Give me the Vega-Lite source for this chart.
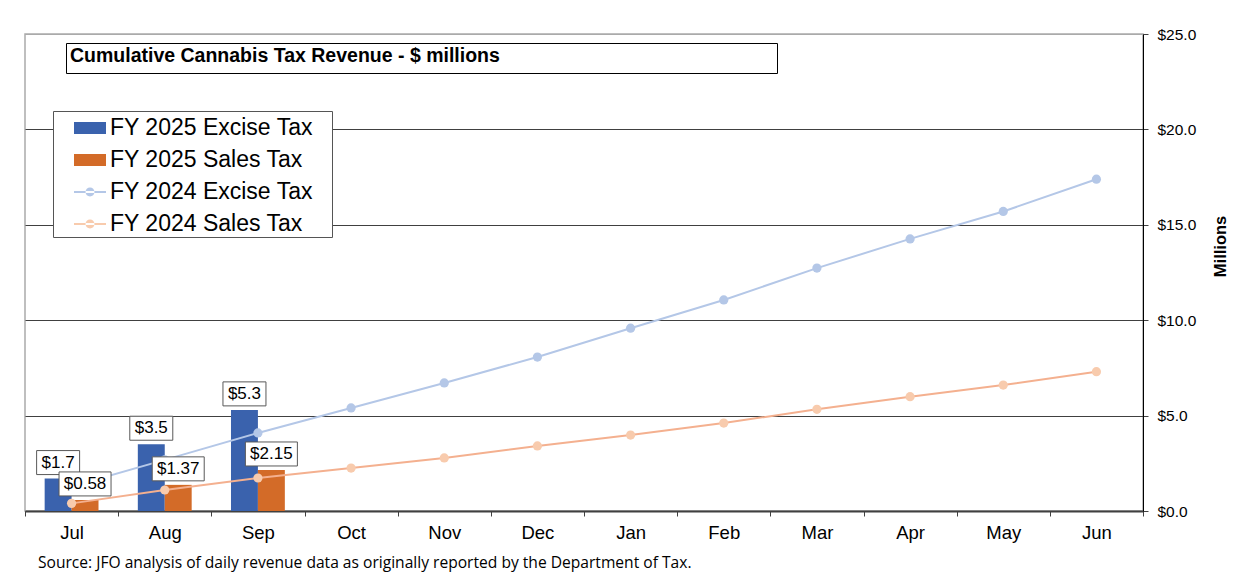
{
  "$schema": "https://vega.github.io/schema/vega-lite/v6.json",
  "width": 1118,
  "height": 477,
  "autosize": {"type": "none"},
  "padding": {"left": 25, "top": 34, "right": 104, "bottom": 61},
  "background": "white",
  "config": {
    "font": "Liberation Sans",
    "view": {"stroke": "#aaaaaa", "strokeWidth": 1.5},
    "text": {"font": "Liberation Sans"}
  },
  "title": {
    "text": "Source: JFO analysis of daily revenue data as originally reported by the Department of Tax.",
    "orient": "bottom",
    "anchor": "start",
    "frame": "group",
    "dx": 13,
    "offset": 14,
    "font": "Open Sans",
    "fontSize": 15.6,
    "fontWeight": "normal",
    "color": "black",
    "baseline": "top"
  },
  "datasets": {
    "bars": [
      {"month": "Jul", "series": "FY 2025 Excise Tax", "value": 1.7},
      {"month": "Jul", "series": "FY 2025 Sales Tax", "value": 0.58},
      {"month": "Aug", "series": "FY 2025 Excise Tax", "value": 3.5},
      {"month": "Aug", "series": "FY 2025 Sales Tax", "value": 1.37},
      {"month": "Sep", "series": "FY 2025 Excise Tax", "value": 5.3},
      {"month": "Sep", "series": "FY 2025 Sales Tax", "value": 2.15}
    ],
    "lines": [
      {"month": "Jul", "series": "FY 2024 Excise Tax", "value": 1.28},
      {"month": "Aug", "series": "FY 2024 Excise Tax", "value": 2.68},
      {"month": "Sep", "series": "FY 2024 Excise Tax", "value": 4.09},
      {"month": "Oct", "series": "FY 2024 Excise Tax", "value": 5.4},
      {"month": "Nov", "series": "FY 2024 Excise Tax", "value": 6.71},
      {"month": "Dec", "series": "FY 2024 Excise Tax", "value": 8.07},
      {"month": "Jan", "series": "FY 2024 Excise Tax", "value": 9.58},
      {"month": "Feb", "series": "FY 2024 Excise Tax", "value": 11.06},
      {"month": "Mar", "series": "FY 2024 Excise Tax", "value": 12.73},
      {"month": "Apr", "series": "FY 2024 Excise Tax", "value": 14.26},
      {"month": "May", "series": "FY 2024 Excise Tax", "value": 15.7},
      {"month": "Jun", "series": "FY 2024 Excise Tax", "value": 17.39},
      {"month": "Jul", "series": "FY 2024 Sales Tax", "value": 0.4},
      {"month": "Aug", "series": "FY 2024 Sales Tax", "value": 1.1},
      {"month": "Sep", "series": "FY 2024 Sales Tax", "value": 1.73},
      {"month": "Oct", "series": "FY 2024 Sales Tax", "value": 2.25},
      {"month": "Nov", "series": "FY 2024 Sales Tax", "value": 2.78},
      {"month": "Dec", "series": "FY 2024 Sales Tax", "value": 3.41},
      {"month": "Jan", "series": "FY 2024 Sales Tax", "value": 3.98},
      {"month": "Feb", "series": "FY 2024 Sales Tax", "value": 4.61},
      {"month": "Mar", "series": "FY 2024 Sales Tax", "value": 5.33},
      {"month": "Apr", "series": "FY 2024 Sales Tax", "value": 5.99},
      {"month": "May", "series": "FY 2024 Sales Tax", "value": 6.6},
      {"month": "Jun", "series": "FY 2024 Sales Tax", "value": 7.3}
    ],
    "legendItems": [
      {"month": "Jul", "series": "FY 2025 Excise Tax", "value": 0},
      {"month": "Jul", "series": "FY 2025 Sales Tax", "value": 0},
      {"month": "Jul", "series": "FY 2024 Excise Tax", "value": 0},
      {"month": "Jul", "series": "FY 2024 Sales Tax", "value": 0}
    ],
    "titleItems": [
      {"month": "Jul", "value": 0, "t": 0},
      {"month": "Jul", "value": 0, "t": 1}
    ]
  },
  "encoding": {
    "x": {
      "field": "month",
      "type": "nominal",
      "sort": ["Jul","Aug","Sep","Oct","Nov","Dec","Jan","Feb","Mar","Apr","May","Jun"],
      "scale": {"domain": ["Jul","Aug","Sep","Oct","Nov","Dec","Jan","Feb","Mar","Apr","May","Jun"], "paddingInner": 0, "paddingOuter": 0},
      "axis": {
        "title": null,
        "labelAngle": 0,
        "labelFontSize": 18.5,
        "labelColor": "black",
        "labelPadding": 7,
        "tickBand": "extent",
        "tickSize": 5,
        "tickColor": "#404040",
        "domainColor": "#404040",
        "domainWidth": 2,
        "grid": false
      }
    },
    "y": {
      "field": "value",
      "type": "quantitative",
      "scale": {"domain": [0, 25], "nice": false},
      "axis": {
        "orient": "right",
        "title": "Millions",
        "titleFontSize": 16.5,
        "titleFontWeight": "bold",
        "titleColor": "black",
        "titleAngle": 270,
        "titleX": 77,
        "titleY": 212,
        "titleAlign": "center",
        "titleBaseline": "middle",
        "values": [0, 5, 10, 15, 20, 25],
        "format": "$.1f",
        "labelFontSize": 15.5,
        "labelColor": "black",
        "labelPadding": 9,
        "tickSize": 5,
        "tickColor": "#404040",
        "domainColor": "black",
        "grid": true,
        "gridColor": {"condition": {"test": "datum.value === 25", "value": "#aaaaaa"}, "value": "#404040"},
        "gridWidth": 1.2
      }
    }
  },
  "layer": [
    {
      "data": {"name": "bars"},
      "mark": {"type": "bar"},
      "encoding": {
        "xOffset": {"field": "series", "type": "nominal", "scale": {"domain": ["FY 2025 Excise Tax", "FY 2025 Sales Tax"], "paddingOuter": 0.73, "paddingInner": 0}},
        "color": {
          "field": "series",
          "type": "nominal",
          "scale": {
            "domain": ["FY 2025 Excise Tax", "FY 2025 Sales Tax", "FY 2024 Excise Tax", "FY 2024 Sales Tax"],
            "range": ["#3a62ad", "#d36b28", "#b4c7e7", "#f8cbad"]
          }
        }
      }
    },
    {
      "data": {"name": "lines"},
      "mark": {"type": "line", "strokeWidth": 2},
      "encoding": {
        "stroke": {
          "field": "series",
          "type": "nominal",
          "scale": {"domain": ["FY 2024 Excise Tax", "FY 2024 Sales Tax"], "range": ["#b4c7e7", "#f4b08f"]},
          "legend": null
        },
        "order": {"value": null}
      }
    },
    {
      "data": {"name": "lines"},
      "mark": {"type": "point", "filled": true, "size": 85, "opacity": 1},
      "encoding": {
        "color": {"field": "series", "type": "nominal"}
      }
    },
    {
      "data": {"name": "bars"},
      "transform": [{"filter": "datum.series === 'FY 2025 Excise Tax'"}],
      "mark": {"type": "point", "shape": "M-1,-1.302L1,-1.302L1,-0.186L-1,-0.186Z", "size": 1849, "filled": false, "fill": "white", "fillOpacity": 1, "stroke": "#595959", "strokeWidth": 1, "opacity": 1},
      "encoding": {
        "xOffset": {"field": "series", "type": "nominal"}
      }
    },
    {
      "data": {"name": "bars"},
      "transform": [{"filter": "datum.series === 'FY 2025 Sales Tax'"}],
      "mark": {"type": "point", "shape": "M-1,-1.077L1,-1.077L1,-0.154L-1,-0.154Z", "size": 2704, "filled": false, "fill": "white", "fillOpacity": 1, "stroke": "#595959", "strokeWidth": 1, "opacity": 1},
      "encoding": {
        "xOffset": {"field": "series", "type": "nominal"}
      }
    },
    {
      "data": {"name": "bars"},
      "mark": {"type": "text", "dy": -16, "baseline": "middle", "align": "center", "fontSize": 17, "color": "black"},
      "encoding": {
        "xOffset": {"field": "series", "type": "nominal"},
        "text": {"field": "value", "type": "quantitative", "format": "$.3~f"}
      }
    },
    {
      "data": {"name": "legendItems"},
      "mark": {"type": "point", "filled": true, "opacity": 0},
      "encoding": {
        "color": {
          "field": "series",
          "type": "nominal",
          "legend": {
            "title": null,
            "orient": "none",
            "legendX": 28,
            "legendY": 77,
            "padding": 1,
            "rowPadding": 4,
            "symbolSize": 1024,
            "symbolOffset": 20,
            "symbolStrokeWidth": 0,
            "symbolOpacity": 1,
            "labelOffset": 4,
            "labelFontSize": 23,
            "labelFont": "Liberation Sans",
            "labelColor": "black",
            "labelLimit": 400,
            "labelExpr": "datum.label + '\u2800'",
            "strokeColor": "#555555",
            "fillColor": "white"
          }
        },
        "shape": {
          "field": "series",
          "type": "nominal",
          "scale": {
            "domain": ["FY 2025 Excise Tax", "FY 2025 Sales Tax", "FY 2024 Excise Tax", "FY 2024 Sales Tax"],
            "range": [
              "M-1,-0.375L1,-0.375L1,0.375L-1,0.375Z",
              "M-1,-0.375L1,-0.375L1,0.375L-1,0.375Z",
              "M-1,-0.065L1,-0.065L1,0.065L-1,0.065Z M-0.28,0A0.28,0.28 0 1,0 0.28,0A0.28,0.28 0 1,0 -0.28,0Z",
              "M-1,-0.065L1,-0.065L1,0.065L-1,0.065Z M-0.28,0A0.28,0.28 0 1,0 0.28,0A0.28,0.28 0 1,0 -0.28,0Z"
            ]
          },
          "legend": {
            "title": null,
            "orient": "none",
            "legendX": 28,
            "legendY": 77,
            "padding": 1,
            "rowPadding": 4,
            "symbolSize": 1024,
            "symbolOffset": 20,
            "symbolStrokeWidth": 0,
            "symbolOpacity": 1,
            "labelOffset": 4,
            "labelFontSize": 23,
            "labelFont": "Liberation Sans",
            "labelColor": "black",
            "labelLimit": 400,
            "labelExpr": "datum.label + '\u2800'",
            "strokeColor": "#555555",
            "fillColor": "white"
          }
        }
      }
    },
    {
      "data": {"name": "titleItems"},
      "mark": {"type": "point", "filled": true, "opacity": 0},
      "encoding": {
        "fill": {
          "field": "t",
          "type": "quantitative",
          "scale": {"range": ["white", "white"]},
          "legend": {
            "title": "Cumulative Cannabis Tax Revenue - $ millions",
            "orient": "none",
            "legendX": 41,
            "legendY": 9,
            "direction": "horizontal",
            "gradientLength": 703,
            "gradientThickness": 1,
            "gradientStrokeWidth": 0,
            "titleFont": "Liberation Sans",
            "titleFontSize": 19.5,
            "titleFontWeight": "bold",
            "titleColor": "black",
            "titleLimit": 1000,
            "titlePadding": 0,
            "labelOpacity": 0,
            "labelFontSize": 1,
            "labelOffset": 0,
            "padding": 4,
            "strokeColor": "black",
            "fillColor": "white"
          }
        }
      }
    }
  ]
}
